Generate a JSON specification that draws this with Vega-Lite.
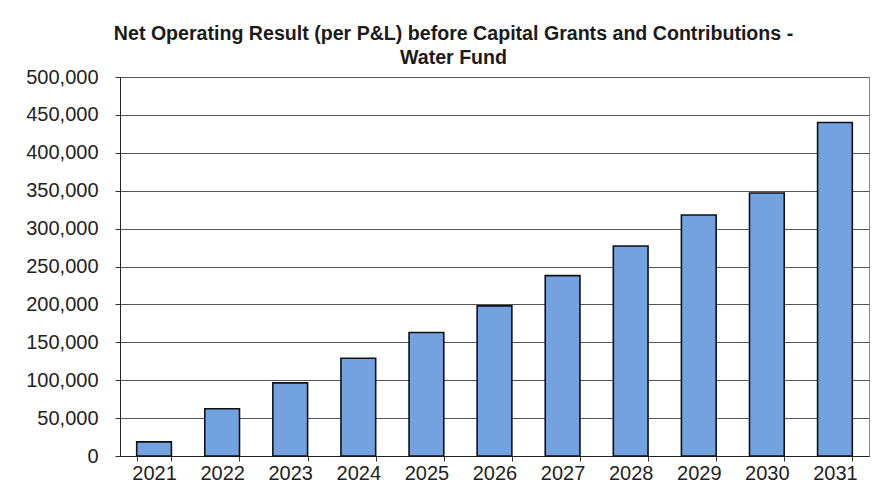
{
  "$schema": "https://vega.github.io/schema/vega-lite/v6.json",
  "autosize": {"type": "none"},
  "width": 749,
  "height": 379,
  "padding": {"left": 120, "top": 77, "right": 6, "bottom": 46},
  "background": "white",
  "title": {
    "text": ["Net Operating Result (per P&L) before Capital Grants and Contributions -", "Water Fund"],
    "anchor": "middle",
    "frame": "group",
    "dx": -41,
    "offset": -2,
    "font": "Liberation Sans",
    "fontSize": 19.6,
    "fontWeight": "bold",
    "lineHeight": 24,
    "color": "#1a1a1a"
  },
  "data": {
    "values": [
      {"year": "2021", "result": 18600},
      {"year": "2022", "result": 62400},
      {"year": "2023", "result": 96500},
      {"year": "2024", "result": 129000},
      {"year": "2025", "result": 163000},
      {"year": "2026", "result": 198000},
      {"year": "2027", "result": 238000},
      {"year": "2028", "result": 277000},
      {"year": "2029", "result": 318000},
      {"year": "2030", "result": 347000},
      {"year": "2031", "result": 440000}
    ]
  },
  "mark": {"type": "bar", "color": "#72a2e0", "stroke": "#111111", "strokeWidth": 1.6},
  "encoding": {
    "x": {
      "field": "year",
      "type": "ordinal",
      "scale": {"paddingInner": 0.49, "paddingOuter": 0.245},
      "axis": {
        "title": null,
        "labelAngle": 0,
        "tickBand": "extent",
        "tickSize": 5,
        "tickColor": "#333333",
        "domainColor": "#222222",
        "labelPadding": 2,
        "labelFont": "Liberation Sans",
        "labelFontSize": 20,
        "labelColor": "#222222"
      }
    },
    "y": {
      "field": "result",
      "type": "quantitative",
      "scale": {"domain": [0, 500000], "nice": false},
      "axis": {
        "title": null,
        "values": [0, 50000, 100000, 150000, 200000, 250000, 300000, 350000, 400000, 450000, 500000],
        "format": ",d",
        "grid": true,
        "gridColor": "#555555",
        "gridWidth": 1,
        "tickSize": 5,
        "tickColor": "#333333",
        "domainColor": "#222222",
        "labelPadding": 17,
        "labelFont": "Liberation Sans",
        "labelFontSize": 20,
        "labelColor": "#222222"
      }
    }
  },
  "config": {
    "view": {"stroke": "#888888", "strokeWidth": 1}
  }
}
